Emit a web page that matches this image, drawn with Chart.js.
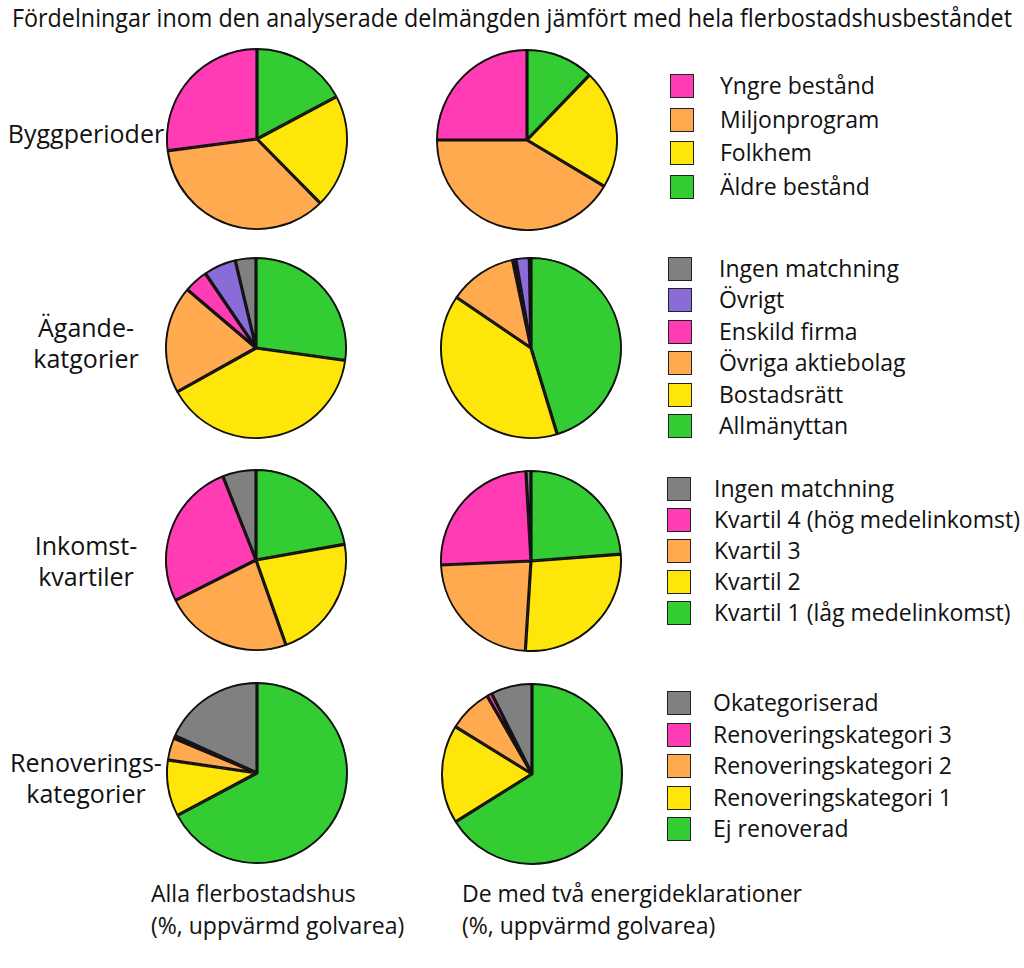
<!DOCTYPE html>
<html>
<head>
<meta charset="utf-8">
<script src="https://cdn.jsdelivr.net/npm/chart.js@4"></script>
<style>
  html, body { margin: 0; padding: 0; background: #fff; }
  body { width: 1024px; height: 968px; position: relative; overflow: hidden; font-family: "Open Sans", sans-serif; color: #111; }
  .abs { position: absolute; white-space: nowrap; }
  .title { font-size: 25px; top: 0px; left: 12px; transform-origin: left top; }
  .rowlab { font-size: 25px; text-align: center; line-height: 31px; width: 180px; }
  .lg { position: absolute; font-size: 23px; }
  .lg .item { position: absolute; left: 0; height: 24px; white-space: nowrap; }
  .lg .box { position: absolute; left: 0; top: 0; width: 22px; height: 22px; border: 1.5px solid #222; }
  .lg .txt { position: absolute; top: -4px; line-height: 30px; }
  .foot { font-size: 23px; line-height: 32px; }
  canvas { position: absolute; }
</style>
</head>
<body>
<div id="root"></div>
<script>
// ---------- data ----------
const titleText = "Fördelningar inom den analyserade delmängden jämfört med hela flerbostadshusbeståndet";
const rowTitles = [["Byggperioder"], ["Ägande-", "katgorier"], ["Inkomst-", "kvartiler"], ["Renoverings-", "kategorier"]];
const colTitles = [["Alla flerbostadshus", "(%, uppvärmd golvarea)"], ["De med två energideklarationer", "(%, uppvärmd golvarea)"]];

// legend order (top to bottom); pies are drawn clockwise from 12 o'clock in reverse order
const byggLabels = ["Yngre bestånd", "Miljonprogram", "Folkhem", "Äldre bestånd"];
const byggAll    = [27.1, 35.3, 20.4, 17.2];
const byggTwo    = [25.0, 41.4, 21.4, 12.2];

const agandeLabels = ["Ingen matchning", "Övrigt", "Enskild firma", "Övriga aktiebolag", "Bostadsrätt", "Allmänyttan"];
const agandeAll    = [3.7, 5.8, 4.3, 19.3, 39.7, 27.2];
const agandeTwo    = [0.3, 2.4, 0.6, 12.2, 39.2, 45.3];

const inkomstLabels = ["Ingen matchning", "Kvartil 4 (hög medelinkomst)", "Kvartil 3", "Kvartil 2", "Kvartil 1 (låg medelinkomst)"];
const inkomstAll    = [6.0, 26.4, 23.0, 22.4, 22.2];
const inkomstTwo    = [0.9, 24.8, 23.3, 27.2, 23.8];

const renovLabels = ["Okategoriserad", "Renoveringskategori 3", "Renoveringskategori 2", "Renoveringskategori 1", "Ej renoverad"];
const renovAll    = [18.2, 0.5, 4.0, 10.1, 67.2];
const renovTwo    = [7.4, 0.9, 7.9, 17.7, 66.1];

// ---------- styling ----------
const C = { green: "#33cc33", yellow: "#ffe60a", orange: "#ffaa4f", pink: "#ff3cb4", purple: "#8a6cd8", grey: "#808080" };
const rows = [
  { labels: byggLabels, all: byggAll, two: byggTwo, colors: [C.pink, C.orange, C.yellow, C.green] },
  { labels: agandeLabels, all: agandeAll, two: agandeTwo, colors: [C.grey, C.purple, C.pink, C.orange, C.yellow, C.green] },
  { labels: inkomstLabels, all: inkomstAll, two: inkomstTwo, colors: [C.grey, C.pink, C.orange, C.yellow, C.green] },
  { labels: renovLabels, all: renovAll, two: renovTwo, colors: [C.grey, C.pink, C.orange, C.yellow, C.green] }
];
// layout
const pieCenters = [
  [[256.5, 139], [527, 140]],
  [[255.5, 348], [530.5, 348]],
  [[256, 560], [531, 561]],
  [[257, 773], [532, 774]]
];
const pieSize = 186;
const rowLabY = [133, 343, 561, 778];
const legendPos = [
  { x: 670, y: 74, step: 33.7, tx: 50 },
  { x: 668, y: 257, step: 31.4, tx: 51 },
  { x: 667, y: 477, step: 31.0, tx: 47 },
  { x: 667, y: 691, step: 31.5, tx: 46 }
];

const root = document.getElementById("root");
function el(cls, html, style) {
  const d = document.createElement("div");
  d.className = cls; d.innerHTML = html; Object.assign(d.style, style || {});
  root.appendChild(d); return d;
}

// title fitted to the reference width
const t = el("abs title", titleText);
const tw = t.getBoundingClientRect().width;
t.style.transform = "scaleX(" + (1000 / tw) + ")";

// row titles
rowTitles.forEach((lines, i) => {
  const h = lines.length * 31;
  el("abs rowlab", lines.join("<br>"), { left: "-4px", top: (rowLabY[i] - h / 2) + "px" });
});

// column titles
el("abs foot", colTitles[0].join("<br>"), { left: "151px", top: "877px" });
el("abs foot", colTitles[1].join("<br>"), { left: "462px", top: "877px" });

// legends
rows.forEach((r, i) => {
  const p = legendPos[i];
  const lg = el("lg", "", { left: p.x + "px", top: p.y + "px" });
  r.labels.forEach((lab, k) => {
    const it = document.createElement("div");
    it.className = "item";
    it.style.top = (k * p.step) + "px";
    it.innerHTML = '<div class="box" style="background:' + r.colors[k] + '"></div><div class="txt" style="left:' + p.tx + 'px">' + lab + '</div>';
    lg.appendChild(it);
  });
});

// pies
rows.forEach((r, i) => {
  [r.all, r.two].forEach((vals, j) => {
    const [cx, cy] = pieCenters[i][j];
    const cv = document.createElement("canvas");
    cv.width = pieSize; cv.height = pieSize;
    cv.style.left = (cx - pieSize / 2) + "px";
    cv.style.top = (cy - pieSize / 2) + "px";
    cv.style.width = pieSize + "px"; cv.style.height = pieSize + "px";
    document.body.appendChild(cv);
    new Chart(cv, {
      type: "pie",
      data: {
        labels: r.labels.slice().reverse(),
        datasets: [{
          data: vals.slice().reverse(),
          backgroundColor: r.colors.slice().reverse(),
          borderColor: "#111",
          borderWidth: 1.6,
          borderAlign: "inner"
        }]
      },
      options: {
        responsive: false,
        animation: false,
        devicePixelRatio: 1,
        layout: { padding: 2 },
        plugins: { legend: { display: false }, tooltip: { enabled: false }, title: { display: false } }
      }
    });
  });
});
</script>
</body>
</html>
